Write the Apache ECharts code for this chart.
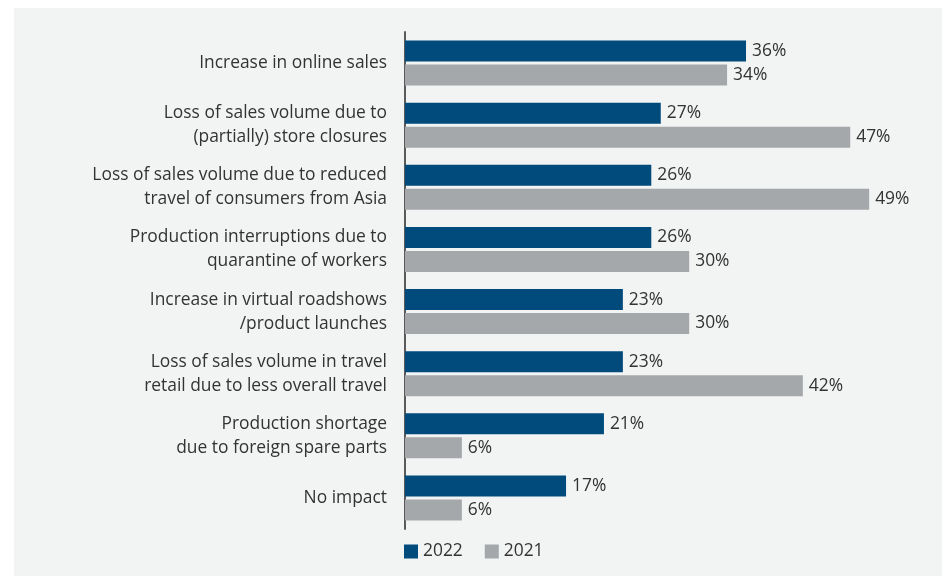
<!DOCTYPE html>
<html><head><meta charset="utf-8">
<script src="https://cdn.jsdelivr.net/npm/echarts@6/dist/echarts.min.js"></script>
<style>html,body{margin:0;padding:0;background:#fff}#c{width:942px;height:576px}</style>
</head><body><div id="c"></div>
<script>
const categories = [
  "Increase in online sales",
  "Loss of sales volume due to\n(partially) store closures",
  "Loss of sales volume due to reduced\ntravel of consumers from Asia",
  "Production interruptions due to\nquarantine of workers",
  "Increase in virtual roadshows\n/product launches",
  "Loss of sales volume in travel\nretail due to less overall travel",
  "Production shortage\ndue to foreign spare parts",
  "No impact"
];
const values2022 = [36, 27, 26, 26, 23, 23, 21, 17];
const values2021 = [34, 47, 49, 30, 30, 42, 6, 6];
const seriesNames = ["2022", "2021"];

const chart = echarts.init(document.getElementById('c'), null, {renderer: 'canvas'});
const font = "'Open Sans', 'Noto Sans', sans-serif";
const fs = 17.4;
const lbl = {show: true, position: 'right', distance: 6, formatter: '{c}%', color: '#333', fontSize: fs, fontFamily: font};
chart.setOption({
  backgroundColor: '#ffffff',
  animation: false,
  graphic: [{type: 'rect', z: -10, shape: {x: 14, y: 8, width: 928, height: 568}, style: {fill: '#f2f3f3'}}],
  grid: {left: 405, right: 16, top: 32, bottom: 47, containLabel: false},
  legend: {
    bottom: 11, left: 399, itemWidth: 14, itemHeight: 14, itemGap: 22,
    icon: 'rect',
    textStyle: {color: '#333', fontSize: fs, fontFamily: font},
    data: seriesNames
  },
  xAxis: {type: 'value', min: 0, max: 55, show: false},
  yAxis: {
    type: 'category', data: categories, inverse: true,
    axisLine: {show: true, lineStyle: {color: '#5a5a5a', width: 2}},
    axisTick: {show: false},
    axisLabel: {color: '#333', fontSize: fs, fontFamily: font, lineHeight: 24, margin: 18, align: 'right', padding: [0, 0, 4, 0]}
  },
  series: [
    {name: seriesNames[0], type: 'bar', data: values2022, barWidth: 21, barGap: '14%', itemStyle: {color: '#004a7c'}, label: lbl},
    {name: seriesNames[1], type: 'bar', data: values2021, barWidth: 21, itemStyle: {color: '#a5a8ab'}, label: lbl}
  ]
});
</script></body></html>
